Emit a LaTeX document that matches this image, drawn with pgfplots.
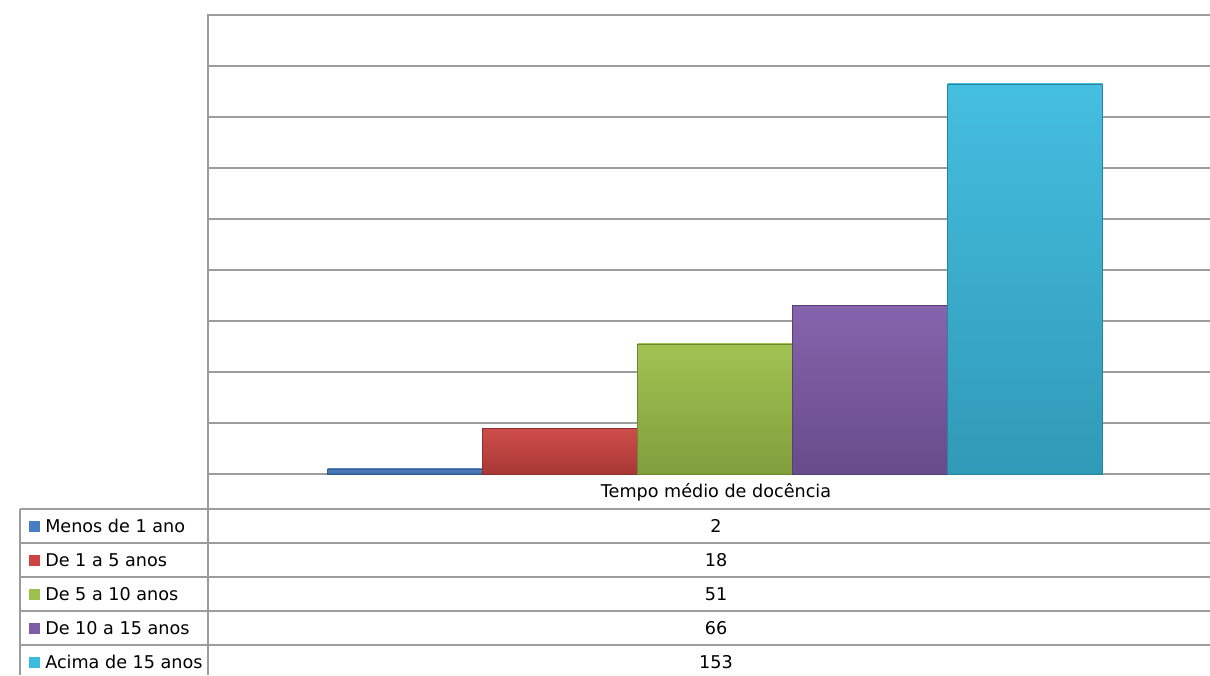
\documentclass[border=0pt]{standalone}
\usepackage{pgfplots}
\pgfplotsset{compat=1.18}
\usepackage{fontspec}
\setmainfont{DejaVu Sans}
\definecolor{cBlue}{HTML}{4A7EC4}
\definecolor{cRed}{HTML}{CC4441}
\definecolor{cGreen}{HTML}{9DC04A}
\definecolor{cPurple}{HTML}{7E5CA8}
\definecolor{cCyan}{HTML}{3BBBDF}
\definecolor{gridc}{HTML}{9C9C9C}
\begin{document}
\begin{tikzpicture}[x=0.75pt,y=-0.75pt,font=\fontsize{13.2}{15}\selectfont]
\useasboundingbox (0,0) rectangle (1210,675);
\coordinate (O) at (208,474);
\begin{axis}[
    at={(O)}, anchor=south west,
    scale only axis, width=760.5pt, height=344.25pt,
    xmin=-1, xmax=1, ymin=0, ymax=180,
    ybar=0pt, bar width=116.25pt,
    ytick distance=20, ymajorgrids,
    grid style={gridc, line width=0.9pt},
    xtick=\empty, yticklabels={}, major tick length=0pt,
    axis line style={gridc, line width=0.9pt},
]
    \addplot[draw=cBlue!70!black, top color=cBlue!95!white, bottom color=cBlue!82!black] coordinates {(0,2)};
    \addplot[draw=cRed!70!black, top color=cRed!95!white, bottom color=cRed!82!black] coordinates {(0,18)};
    \addplot[draw=cGreen!70!black, top color=cGreen!95!white, bottom color=cGreen!82!black] coordinates {(0,51)};
    \addplot[draw=cPurple!70!black, top color=cPurple!95!white, bottom color=cPurple!82!black] coordinates {(0,66)};
    \addplot[draw=cCyan!70!black, top color=cCyan!95!white, bottom color=cCyan!82!black] coordinates {(0,153)};
\end{axis}
% data table below the plot
\draw[gridc, line width=0.9pt] (208,474) -- (208,675);
\foreach \yy in {509,543,577,611,645} \draw[gridc, line width=0.9pt] (20,\yy) -- (1210,\yy);
\draw[gridc, line width=0.9pt] (20,509) -- (20,675);
\node at (716,492) {Tempo médio de docência};
\foreach \yc/\c/\lab/\v in {526/cBlue/Menos de 1 ano/2, 560/cRed/De 1 a 5 anos/18, 594/cGreen/De 5 a 10 anos/51, 628/cPurple/De 10 a 15 anos/66, 662/cCyan/Acima de 15 anos/153} {
    \fill[\c] (29,\yc-5.5) rectangle (40,\yc+5.5);
    \node[anchor=west, inner sep=0pt] at (45,\yc) {\lab};
    \node at (716,\yc) {\v};
}
\end{tikzpicture}
\end{document}
